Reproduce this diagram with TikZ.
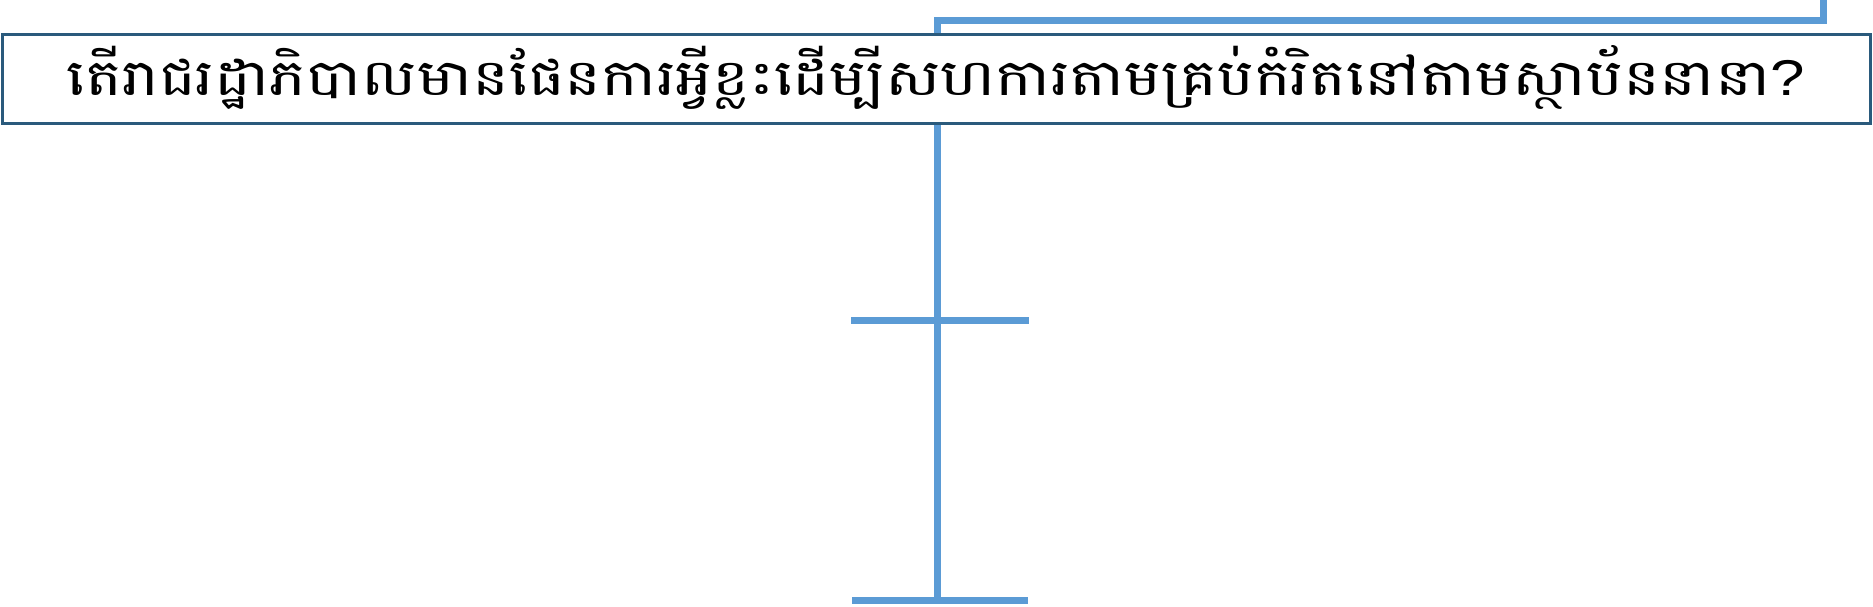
\documentclass[tikz,border=0pt]{standalone}
\usepackage{fontspec}
\newfontfamily\khmerfont[Script=Khmer]{Battambang}
\newfontfamily\qfont{Liberation Sans}
\definecolor{boxline}{HTML}{2A5A7C}
\definecolor{bluel}{HTML}{5B9BD5}
\begin{document}
\begin{tikzpicture}[x=1pt,y=-1pt,
  qbox/.style={draw=boxline,line width=3pt,inner sep=0pt,minimum width=1868pt,
    text height=60.5pt,text depth=28.5pt,fill=white},
  bline/.style={draw=bluel,line width=7pt}]
\useasboundingbox (0,0) rectangle (1873,606);
\coordinate (tr) at (1823,0);
\coordinate (lv) at (937,20);
\coordinate (cl) at (851,320.5);
\coordinate (cr) at (1029,320.5);
\coordinate (bl) at (852,600);
\coordinate (br) at (1028,600);
\coordinate (bm) at (937,600);
\node[qbox] (q) at (936,79) {\resizebox{1738pt}{50pt}{\khmerfont តើរាជរដ្ឋាភិបាលមានផែនការអ្វីខ្លះដើម្បីសហការតាមគ្រប់កំរិតនៅតាមស្ថាប័ននានា\qfont ?}};
\draw[bline] (q.north -| lv) -- (lv) -| (tr);
\draw[bline] (q.south -| bm) -- (bm);
\draw[bline] (cl) -- (cr);
\draw[bline] (bl) -- (br);
\end{tikzpicture}
\end{document}
